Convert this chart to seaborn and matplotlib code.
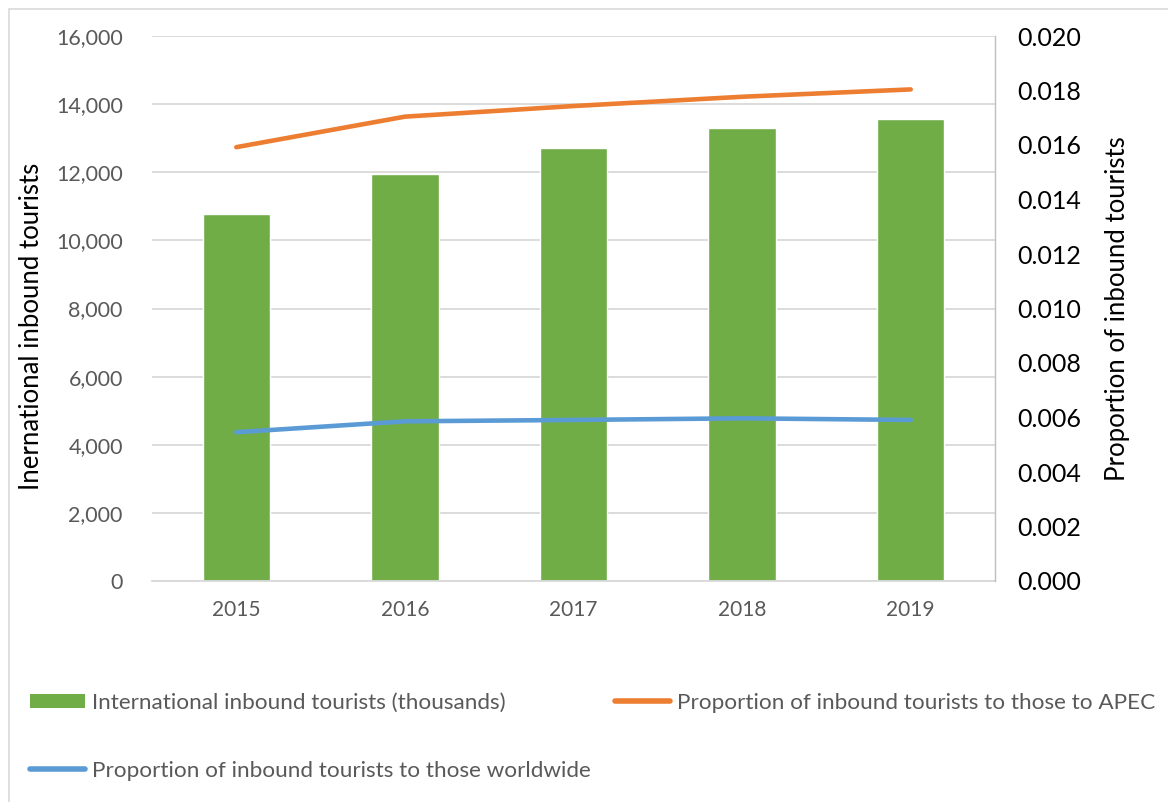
import numpy as np
import pandas as pd
import matplotlib
matplotlib.use("Agg")
import matplotlib.pyplot as plt
from matplotlib.patches import Rectangle, Patch
from matplotlib.lines import Line2D
from matplotlib.ticker import FuncFormatter, MultipleLocator
import seaborn as sns

# ---- data ----
years = ["2015", "2016", "2017", "2018", "2019"]
inbound_thousands = [10775, 11950, 12713, 13291, 13555]
share_apec = [0.01592, 0.01704, 0.01743, 0.01777, 0.01804]
share_world = [0.00546, 0.00586, 0.00591, 0.00597, 0.00591]

bar_label = "International inbound tourists (thousands)"
apec_label = "Proportion of inbound tourists to those to APEC"
world_label = "Proportion of inbound tourists to those worldwide"

GREEN = "#70AD47"
ORANGE = "#ED7D31"
BLUE = "#5B9BD5"
GRID = "#D9D9D9"
TEXT = "#595959"

sns.set_theme(style="white")
plt.rcParams["font.family"] = ["Lato", "DejaVu Sans"]

df = pd.DataFrame({"year": years, "inbound": inbound_thousands,
                   "apec": share_apec, "world": share_world,
                   "pos": np.arange(len(years))})

fig = plt.figure(figsize=(11.68, 8.02), dpi=100)
fig.patch.set_facecolor("white")
ax = fig.add_axes([152 / 1168, 1 - 581 / 802, (995 - 152) / 1168, (581 - 36) / 802])

sns.barplot(data=df, x="year", y="inbound", order=years, color=GREEN,
            saturation=1, width=0.40, ax=ax, zorder=2)
ax.set_xlim(-0.5, len(years) - 0.5)
ax.set_ylim(0, 16000)
ax.yaxis.set_major_locator(MultipleLocator(2000))
ax.yaxis.set_major_formatter(FuncFormatter(lambda v, p: f"{int(v):,}"))
ax.grid(axis="y", color=GRID, lw=1.3, zorder=0)
ax.set_axisbelow(True)
ax.set_xlabel("")
ax.set_ylabel("Inernational inbound tourists", fontsize=18.5, color="#000000")
ax.yaxis.set_label_coords(-0.128, 0.468)
ax.tick_params(axis="y", length=0, pad=21, labelsize=15.5, labelcolor=TEXT)
ax.tick_params(axis="x", length=0, pad=14, labelsize=15, labelcolor=TEXT)
for s in ["top", "left", "right"]:
    ax.spines[s].set_visible(False)
ax.spines["bottom"].set_color(GRID)
ax.spines["bottom"].set_linewidth(1.3)

ax2 = ax.twinx()
sns.lineplot(data=df, x="pos", y="apec", color=ORANGE, lw=3.3, ax=ax2,
             solid_capstyle="round", zorder=3)
sns.lineplot(data=df, x="pos", y="world", color=BLUE, lw=3.3, ax=ax2,
             solid_capstyle="round", zorder=3)
ax2.set_xlim(-0.5, len(years) - 0.5)
ax2.set_ylim(0, 0.020)
ax2.yaxis.set_major_locator(MultipleLocator(0.002))
ax2.yaxis.set_major_formatter(FuncFormatter(lambda v, p: f"{v:.3f}"))
ax2.set_ylabel("Proportion of inbound tourists", fontsize=18.5, color="#000000")
ax2.yaxis.set_label_coords(1.13, 0.5)
ax2.tick_params(axis="y", length=0, pad=16, labelsize=18, labelcolor="#000000")
for s in ["top", "left", "bottom"]:
    ax2.spines[s].set_visible(False)
ax2.spines["right"].set_color("#BFBFBF")
ax2.spines["right"].set_linewidth(1.0)

# chart-area frame
fig.patches.append(Rectangle((9 / 1168, -0.1), 1.2, 1 - 9 / 802 + 0.1,
                             transform=fig.transFigure, fill=False,
                             edgecolor=GRID, lw=1.2))

# legend entries
leg_kw = dict(frameon=False, fontsize=16.2, labelcolor=TEXT, handletextpad=0.3,
              borderaxespad=0, borderpad=0, loc="center left")
fig.legend([Patch(facecolor=GREEN, edgecolor="none")], [bar_label],
           bbox_to_anchor=(30 / 1168, 1 - 703 / 802), handlelength=2.45,
           handleheight=0.55, **leg_kw)
fig.legend([Line2D([], [], color=ORANGE, lw=4, solid_capstyle="round")], [apec_label],
           bbox_to_anchor=(615 / 1168, 1 - 703 / 802), handlelength=2.45, **leg_kw)
fig.legend([Line2D([], [], color=BLUE, lw=4, solid_capstyle="round")], [world_label],
           bbox_to_anchor=(30 / 1168, 1 - 771 / 802), handlelength=2.45, **leg_kw)

fig.savefig("out.png", dpi=100, facecolor="white")
